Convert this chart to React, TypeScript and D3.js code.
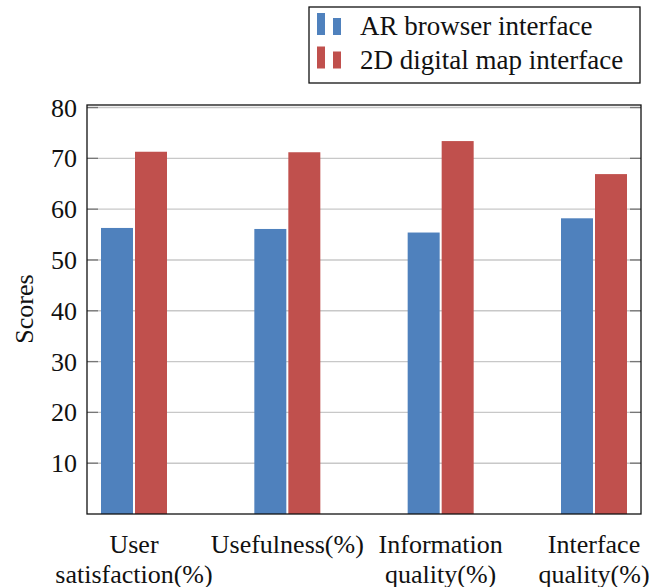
import React from "react";
import * as d3 from "d3";

const categories: string[][] = [
  ["User", "satisfaction(%)"],
  ["Usefulness(%)"],
  ["Information", "quality(%)"],
  ["Interface", "quality(%)"],
];
const arValues = [56.3, 56.1, 55.4, 58.2];
const mapValues = [71.3, 71.2, 73.4, 66.9];
const seriesNames = ["AR browser interface", "2D digital map interface"];
const seriesColors = ["#4f81bd", "#c0504d"];
const yTicks = [10, 20, 30, 40, 50, 60, 70, 80];

export default function App() {
  const W = 664, H = 587;
  const left = 87, right = 641, top = 105, bottom = 514;
  const fs = { fontFamily: '"Liberation Serif", "DejaVu Serif", serif' };
  const y = d3.scaleLinear().domain([0, 80.5]).range([bottom, top]);
  const x = d3.scalePoint<number>().domain([0, 1, 2, 3]).range([left + 47, right - 47]);
  const barW = 32;
  const gap = 2;
  const series = [arValues, mapValues];
  return (
    <svg width={W} height={H} style={{ position: "absolute", left: 0, top: 0 }}>
      <rect width={W} height={H} fill="#fff" />
      {yTicks.map((t) => (
        <line key={"g" + t} x1={left} x2={right} y1={y(t)} y2={y(t)} stroke="#c8c8c8" strokeWidth={1.4} />
      ))}
      {series.map((vals, si) =>
        vals.map((v, i) => {
          const cx = x(i)!;
          const x0 = si === 0 ? cx - gap / 2 - barW : cx + gap / 2;
          return (
            <rect key={si + "-" + i} x={x0} y={y(v)} width={barW} height={y(0) - y(v)} fill={seriesColors[si]} />
          );
        })
      )}
      {yTicks.map((t) => (
        <g key={"t" + t}>
          <line x1={left} x2={left + 11} y1={y(t)} y2={y(t)} stroke="#777" strokeWidth={1.3} />
          <line x1={right - 11} x2={right} y1={y(t)} y2={y(t)} stroke="#777" strokeWidth={1.3} />
          <text x={left - 10} y={y(t)} dy="0.35em" textAnchor="end" style={fs} fontSize={26} fill="#111">
            {t}
          </text>
        </g>
      ))}
      <rect x={left} y={top} width={right - left} height={bottom - top} fill="none" stroke="#111" strokeWidth={1.3} />
      {categories.map((lines, i) =>
        lines.map((ln, j) => (
          <text key={i + "-" + j} x={x(i)!} y={553 + j * 30} textAnchor="middle" style={fs} fontSize={26} fill="#111">
            {ln}
          </text>
        ))
      )}
      <text transform={`translate(33, 309) rotate(-90)`} textAnchor="middle" style={fs} fontSize={26} fill="#111">
        Scores
      </text>
      <rect x={309} y={7} width={331} height={76} fill="#fff" stroke="#111" strokeWidth={1.3} />
      {seriesNames.map((n, i) => (
        <g key={n}>
          <rect x={317} y={13 + i * 33.5} width={8} height={22} fill={seriesColors[i]} />
          <rect x={333} y={18 + i * 33.5} width={8} height={17} fill={seriesColors[i]} />
          <text x={360} y={35 + i * 33.5} style={fs} fontSize={27} fill="#111">
            {n}
          </text>
        </g>
      ))}
    </svg>
  );
}
